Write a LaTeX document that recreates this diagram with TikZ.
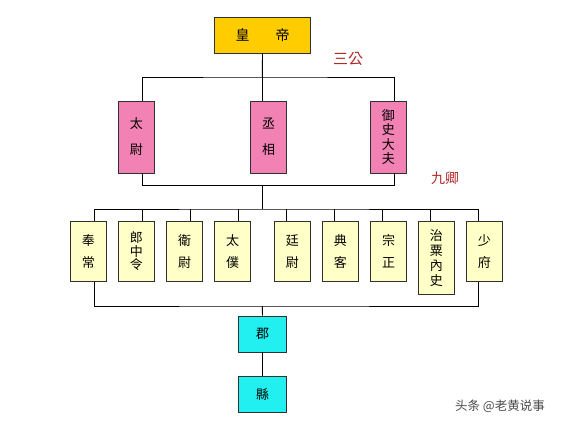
\documentclass[tikz,border=0pt]{standalone}
\usepackage{fontspec}
\newfontfamily\cjk{Noto Sans CJK TC}
\newfontfamily\cjksc{Noto Sans CJK SC}
\definecolor{gold}{HTML}{FFCC00}
\definecolor{pinkf}{HTML}{F282B4}
\definecolor{yelf}{HTML}{FFFFC8}
\definecolor{cyanf}{HTML}{22F0F0}
\definecolor{labred}{HTML}{B02A2A}
\definecolor{edge}{HTML}{303030}
\tikzset{
  box/.style={draw=edge, line width=0.9pt, inner sep=0pt, align=center, font=\cjk\fontsize{13}{14}\selectfont},
  lsp/.style={font=\cjk\fontsize{13}{#1}\selectfont},
  goldbox/.style={box, fill=gold, minimum width=96pt, minimum height=36pt, font=\cjk\fontsize{14}{15}\selectfont},
  pinkbox/.style={box, fill=pinkf, minimum width=36pt, minimum height=72pt},
  yelbox/.style={box, fill=yelf, minimum width=36pt, minimum height=60pt, anchor=north},
  cyanbox/.style={box, fill=cyanf, minimum width=48pt, minimum height=36pt},
  conn/.style={line width=0.9pt, black},
  lab/.style={text=labred, font=\cjk\fontsize{15}{16}\selectfont, inner sep=0pt}
}
\begin{document}
\begin{tikzpicture}[x=1pt,y=-1pt]
\useasboundingbox (0,0) rectangle (564,428);
\fill[white] (0,0) rectangle (564,428);
% top
\node[goldbox] (hd) at (262.5,35) {皇\hspace{26pt}帝};
\node[lab] (sg) at (348,59) {三公};
% row 2
\node[pinkbox, lsp=26pt] (tw) at (136.3,137) {太\\尉};
\node[pinkbox, lsp=26pt] (cx) at (268.5,137) {丞\\相};
\node[pinkbox, lsp=14.5pt] (ys) at (388.3,137) {御\\史\\大\\夫};
\node[lab, font=\cjk\fontsize{14}{15}\selectfont] (jq) at (445,178) {九卿};
% row 3
\node[yelbox, lsp=22pt] (y1) at (88.3,221) {奉\\常};
\node[yelbox, lsp=13.5pt] (y2) at (136.3,221) {郎\\中\\令};
\node[yelbox, lsp=22pt] (y3) at (184.7,221) {衛\\尉};
\node[yelbox, lsp=22pt] (y4) at (232.5,221) {太\\僕};
\node[yelbox, lsp=22pt] (y5) at (292.3,221) {廷\\尉};
\node[yelbox, lsp=22pt] (y6) at (340.3,221) {典\\客};
\node[yelbox, lsp=22pt] (y7) at (388.5,221) {宗\\正};
\node[yelbox, lsp=15pt, minimum height=73pt] (y8) at (436.3,221) {治\\粟\\內\\史};
\node[yelbox, lsp=22pt] (y9) at (484.3,221) {少\\府};
% bottom
\node[cyanbox] (jun) at (262.5,334) {郡};
\node[cyanbox] (xian) at (262.5,394) {縣};
% watermark
\node[text=white, font=\cjksc\fontsize{12.5}{13}\selectfont, inner sep=0pt] at (501,407) {头条 @老黄说事};
\node[text=black!70, font=\cjksc\fontsize{12.5}{13}\selectfont, inner sep=0pt] (wm) at (500,406) {头条 @老黄说事};
% buses
\coordinate (b1) at (262.3,77);
\coordinate (b2) at (262.3,185.7);
\coordinate (b3) at (262.3,209);
\coordinate (b4) at (262.3,306);
% connectors
\draw[conn] (hd.south) -- (b1);
\draw[conn] ([xshift=6.4pt]tw.north) |- (b1) -| ([xshift=6.4pt]ys.north);
\draw[conn] (b1) -- ([xshift=-6.2pt]cx.north);
\draw[conn] ([xshift=6.4pt]tw.south) |- (b2) -| ([xshift=6.4pt]ys.south);
\draw[conn] (b2) -- (b3);
\draw[conn] ([xshift=6pt]y1.north) |- (b3) -| ([xshift=-6pt]y9.north);
\foreach \n/\s in {y2/6.4,y3/6,y4/6.2,y5/-5.6,y6/-6,y7/-5.8,y8/-5.6}{
  \draw[conn] ([xshift=\s pt]\n.north) -- ([xshift=\s pt]\n.north |- b3);
}
\draw[conn] ([xshift=6pt]y1.south) |- (b4) -| ([xshift=-6pt]y9.south);
\draw[conn] (b4) -- (jun.north);
\draw[conn] (jun.south) -- (xian.north);
\end{tikzpicture}
\end{document}
